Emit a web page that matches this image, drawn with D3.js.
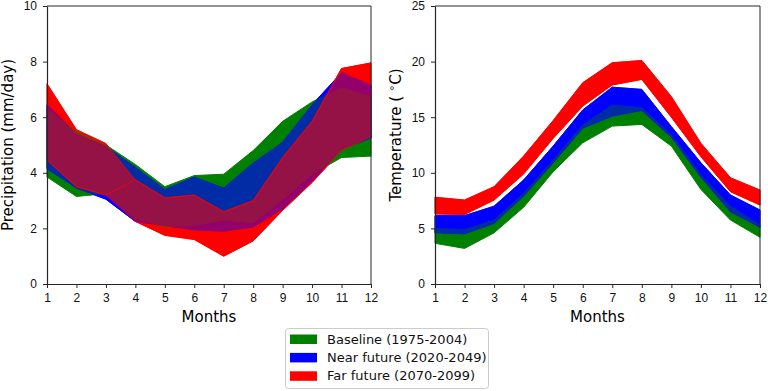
<!DOCTYPE html>
<html>
<head>
<meta charset="utf-8">
<script src="https://cdn.jsdelivr.net/npm/d3@7"></script>
<style>
  body { margin: 0; background: #fff; }
  svg { display: block; font-family: "DejaVu Sans", sans-serif; }
  .axis path, .axis line { stroke: #262626; }
  .axis text { fill: #111; font-size: 12px; }
</style>
</head>
<body>
<svg id="chart" width="768" height="391"></svg>
<script>
// ---- data ----
const months = [1, 2, 3, 4, 5, 6, 7, 8, 9, 10, 11, 12];

// precipitation (mm/day), lower / upper bound per period
const precipBaseLow = [3.85, 3.15, 3.25, 2.35, 2.05, 2.1, 2.3, 2.2, 3.05, 3.95, 4.55, 4.6];
const precipBaseHigh = [6.3, 5.5, 5.0, 4.3, 3.5, 3.9, 3.95, 4.8, 5.85, 6.55, 7.05, 6.75];
const precipNearLow = [4.15, 3.45, 3.05, 2.25, 2.1, 1.95, 1.9, 2.05, 2.7, 3.7, 4.85, 5.25];
const precipNearHigh = [6.45, 5.4, 4.95, 4.2, 3.4, 3.85, 3.45, 4.35, 5.1, 6.45, 7.6, 7.15];
const precipFarLow = [4.45, 3.5, 3.2, 2.25, 1.75, 1.6, 1.0, 1.55, 2.65, 3.65, 4.8, 5.3];
const precipFarHigh = [7.2, 5.55, 5.05, 3.75, 3.1, 3.2, 2.6, 3.0, 4.55, 5.85, 7.75, 7.95];
// red curve drawn inside the far-future band
const precipFarLine = [4.45, 3.5, 3.2, 3.75, 3.1, 3.2, 2.6, 3.0, 4.55, 5.85, 7.75, 7.95];

// temperature (deg C)
const tempBaseLow = [3.66, 3.2, 4.6, 6.9, 10.1, 12.7, 14.2, 14.35, 12.4, 8.5, 5.75, 4.2];
const tempBaseHigh = [5.0, 4.9, 5.75, 8.15, 11.15, 14.3, 16.1, 15.85, 13.4, 9.8, 7.0, 5.3];
const tempNearLow = [4.6, 4.5, 5.45, 7.9, 10.9, 14.0, 15.1, 15.6, 13.2, 9.6, 6.5, 5.1];
const tempNearHigh = [6.15, 6.15, 7.0, 9.35, 12.4, 15.65, 17.7, 17.5, 14.15, 10.9, 8.0, 6.65];
const tempFarLow = [6.3, 6.25, 7.55, 9.9, 13.1, 16.0, 17.9, 18.4, 15.0, 11.45, 8.3, 7.1];
const tempFarHigh = [7.8, 7.55, 8.75, 11.5, 14.7, 18.1, 19.9, 20.1, 16.85, 12.65, 9.55, 8.45];

const periods = ["Baseline (1975-2004)", "Near future (2020-2049)", "Far future (2070-2099)"];
const periodColors = ["#008000", "#0000ff", "#ff0000"];

const precipTicks = [0, 2, 4, 6, 8, 10];
const tempTicks = [0, 5, 10, 15, 20, 25];

// ---- layout ----
const svg = d3.select("#chart");
const plotTop = 6, plotBottom = 284;
const alphas = [1, 0.65, 0.58];

function drawPanel(left, right, yMax, yTicks, bands, extraLine, yLabel, yLabelX, yLabelMid) {
  const x = d3.scaleLinear().domain([1, 12]).range([left, right]);
  const y = d3.scaleLinear().domain([0, yMax]).range([plotBottom, plotTop]);

  const g = svg.append("g");

  const toRows = (a, b) => months.map((m, i) => ({ m: m, a: a[i], b: b[i] }));
  const area = d3.area()
      .x(d => x(d.m))
      .y0(d => y(d.a))
      .y1(d => y(d.b));

  // backing pass: keeps single-period regions fully saturated
  [2, 1].forEach(k => {
    g.append("path")
      .attr("d", area(toRows(bands[k][0], bands[k][1])))
      .attr("fill", periodColors[k])
      .attr("stroke", periodColors[k])
      .attr("stroke-width", 1);
  });

  // blended pass
  [0, 1, 2].forEach(k => {
    g.append("path")
      .attr("d", area(toRows(bands[k][0], bands[k][1])))
      .attr("fill", periodColors[k])
      .attr("fill-opacity", alphas[k])
      .attr("stroke", periodColors[k])
      .attr("stroke-opacity", alphas[k])
      .attr("stroke-width", 1);
  });

  if (extraLine) {
    const line = d3.line()
        .x((d, i) => x(months[i]))
        .y(d => y(d));
    g.append("path")
      .attr("d", line(extraLine))
      .attr("fill", "none")
      .attr("stroke", periodColors[2])
      .attr("stroke-opacity", 0.8)
      .attr("stroke-width", 1);
  }

  // axes
  g.append("g")
    .attr("class", "axis")
    .attr("transform", `translate(0,${plotBottom})`)
    .call(d3.axisBottom(x).tickValues(months).tickFormat(d3.format("d"))
      .tickSize(4).tickPadding(5).tickSizeOuter(0));

  g.append("g")
    .attr("class", "axis")
    .attr("transform", `translate(${left},0)`)
    .call(d3.axisLeft(y).tickValues(yTicks).tickSize(4).tickPadding(6).tickSizeOuter(0));

  // top and right spines
  g.append("line").attr("x1", left).attr("x2", right).attr("y1", plotTop).attr("y2", plotTop)
    .attr("stroke", "#262626");
  g.append("line").attr("x1", right).attr("x2", right).attr("y1", plotTop).attr("y2", plotBottom)
    .attr("stroke", "#262626");

  g.selectAll(".axis .domain").attr("stroke-width", 1.2);

  g.append("text")
    .attr("x", (left + right) / 2)
    .attr("y", 322)
    .attr("text-anchor", "middle")
    .attr("font-size", 15)
    .text("Months");

  const yl = g.append("text")
    .attr("transform", `translate(${yLabelX},${yLabelMid}) rotate(-90)`)
    .attr("text-anchor", "middle")
    .attr("font-size", 15);
  yLabel(yl);
}

drawPanel(47, 371, 10, precipTicks,
  [[precipBaseLow, precipBaseHigh], [precipNearLow, precipNearHigh], [precipFarLow, precipFarHigh]],
  precipFarLine,
  t => t.text("Precipitation (mm/day)"), 13, 145);

drawPanel(435, 760, 25, tempTicks,
  [[tempBaseLow, tempBaseHigh], [tempNearLow, tempNearHigh], [tempFarLow, tempFarHigh]],
  null,
  t => {
    t.append("tspan").text("Temperature ( ");
    t.append("tspan").attr("dy", -6).attr("font-size", 10).text("\u2218");
    t.append("tspan").attr("dy", 6).text("C)");
  }, 401, 135);

// ---- legend ----
const legend = svg.append("g");
legend.append("rect")
  .attr("x", 285.5).attr("y", 328.5)
  .attr("width", 203).attr("height", 60)
  .attr("rx", 3)
  .attr("fill", "#fff")
  .attr("stroke", "#cccccc");

periods.forEach((p, i) => {
  const base = 343.5 + i * 18.4;
  legend.append("rect")
    .attr("x", 290).attr("y", base - 9)
    .attr("width", 27).attr("height", 9.5)
    .attr("fill", periodColors[i]);
  legend.append("text")
    .attr("x", 327).attr("y", base)
    .attr("font-size", 13)
    .attr("fill", "#111")
    .text(p);
});
</script>
</body>
</html>
